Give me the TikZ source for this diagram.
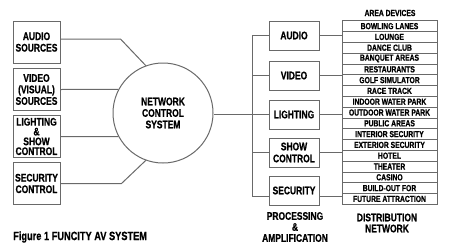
\documentclass[tikz,border=0pt]{standalone}
\usepackage{fontspec}
\setmainfont{Liberation Sans}[FakeStretch=0.77, BoldFeatures={FakeBold=0.8}]
\usepackage{xcolor}
\usepackage{tikz}
\usetikzlibrary{
  positioning
}
\definecolor{LineGray}{RGB}{105,105,105}

\begin{document}
\begin{tikzpicture}[
  x=1pt, y=-1pt,
  font=\bfseries\fontsize{11}{11.5}\selectfont,
  srcbox/.style={
    draw=LineGray,
    line width=1pt,
    align=center,
    inner sep=0pt,
    minimum width=47pt,
    minimum height=42pt,
  },
  procbox/.style={
    draw=LineGray,
    line width=1pt,
    align=center,
    inner sep=0pt,
    minimum width=50pt,
    minimum height=29pt,
    font=\bfseries\fontsize{11}{12}\selectfont,
  },
  devrow/.style={
    draw=LineGray,
    line width=0.8pt,
    inner sep=0pt,
    minimum width=95pt,
    minimum height=10.8pt,
    font=\bfseries\fontsize{8.8}{9}\selectfont,
  },
  link/.style={draw=LineGray, line width=1pt},
  grouplab/.style={align=center, font=\bfseries\fontsize{11}{11}\selectfont},
]
  \useasboundingbox (0,0) rectangle (450,250);
  % sources
  \node[srcbox] (audsrc) at (36.5,42) {AUDIO\\SOURCES};
  \node[srcbox] (vidsrc) at (36.5,89.5) {VIDEO\\(VISUAL)\\SOURCES};
  \node[srcbox, font=\bfseries\fontsize{11}{9.8}\selectfont] (lgtsrc) at (36.5,136.5)
    {LIGHTING\\\&\\SHOW\\CONTROL};
  \node[srcbox] (secsrc) at (36.5,183.5) {SECURITY\\CONTROL};
  \node[draw=LineGray, line width=1pt, circle, minimum size=100pt,
    align=center, inner sep=0pt] (ncs) at (163,113) {NETWORK\\CONTROL\\SYSTEM};
  \draw[link] ([yshift=3pt]audsrc.east) -- ++(60,0) -- (ncs.110);
  \draw[link] (vidsrc.east) -- (ncs.152);
  \draw[link] (lgtsrc.east) -- (ncs.208);
  \draw[link] (secsrc.east) -- ++(61,0) -- (ncs.250);
  % processing & amplification
  \node[procbox] (audio) at (294,35.5) {AUDIO};
  \node[procbox] (video) at (294,75.5) {VIDEO};
  \node[procbox] (lighting) at (294,114.5) {LIGHTING};
  \node[procbox] (show) at (294,152.5) {SHOW\\CONTROL};
  \node[procbox] (security) at (294,190.5) {SECURITY};
  \coordinate (bus) at (252,0);
  \draw[link] (lighting.west -| ncs.east) -- (lighting.west);
  \draw[link] (audio.west) -- (audio.west -| bus)
    -- ([yshift=-5.5pt]security.west -| bus) -- ([yshift=-5.5pt]security.west);
  \draw[link] (video.west -| bus) -- (video.west);
  \draw[link] (show.west -| bus) -- (show.west);
  % distribution network
  \node[font=\bfseries\fontsize{8.8}{9}\selectfont] (areadev) at (390,13) {AREA DEVICES};
  \foreach \name [count=\i] in {BOWLING LANES, LOUNGE, DANCE CLUB, BANQUET AREAS,
      RESTAURANTS, GOLF SIMULATOR, RACE TRACK, INDOOR WATER PARK,
      OUTDOOR WATER PARK, PUBLIC AREAS, INTERIOR SECURITY, EXTERIOR SECURITY,
      HOTEL, THEATER, CASINO, BUILD-OUT FOR, FUTURE ATTRACTION}
    \node[devrow] (dev\i) at (389.5,15.3+10.8*\i) {\name};
  \draw[link] (audio.east) -- (audio.east -| dev1.west);
  \draw[link] (video.east) -- (video.east -| dev1.west);
  \draw[link] (lighting.east) -- (lighting.east -| dev1.west);
  \draw[link] (show.east) -- (show.east -| dev1.west);
  \draw[link] ([yshift=-5.5pt]security.east) -- ([yshift=-5.5pt]security.east -| dev1.west);
  % labels
  \node[grouplab] (proclab) at (295,227) {PROCESSING\\\&\\AMPLIFICATION};
  \node[grouplab] (distlab) at (387,223) {DISTRIBUTION\\NETWORK};
  \node[anchor=west, inner sep=0pt, font=\bfseries\fontsize{12}{12}\selectfont]
    (fig) at (13,237) {Figure 1 FUNCITY AV SYSTEM};
\end{tikzpicture}
\end{document}
